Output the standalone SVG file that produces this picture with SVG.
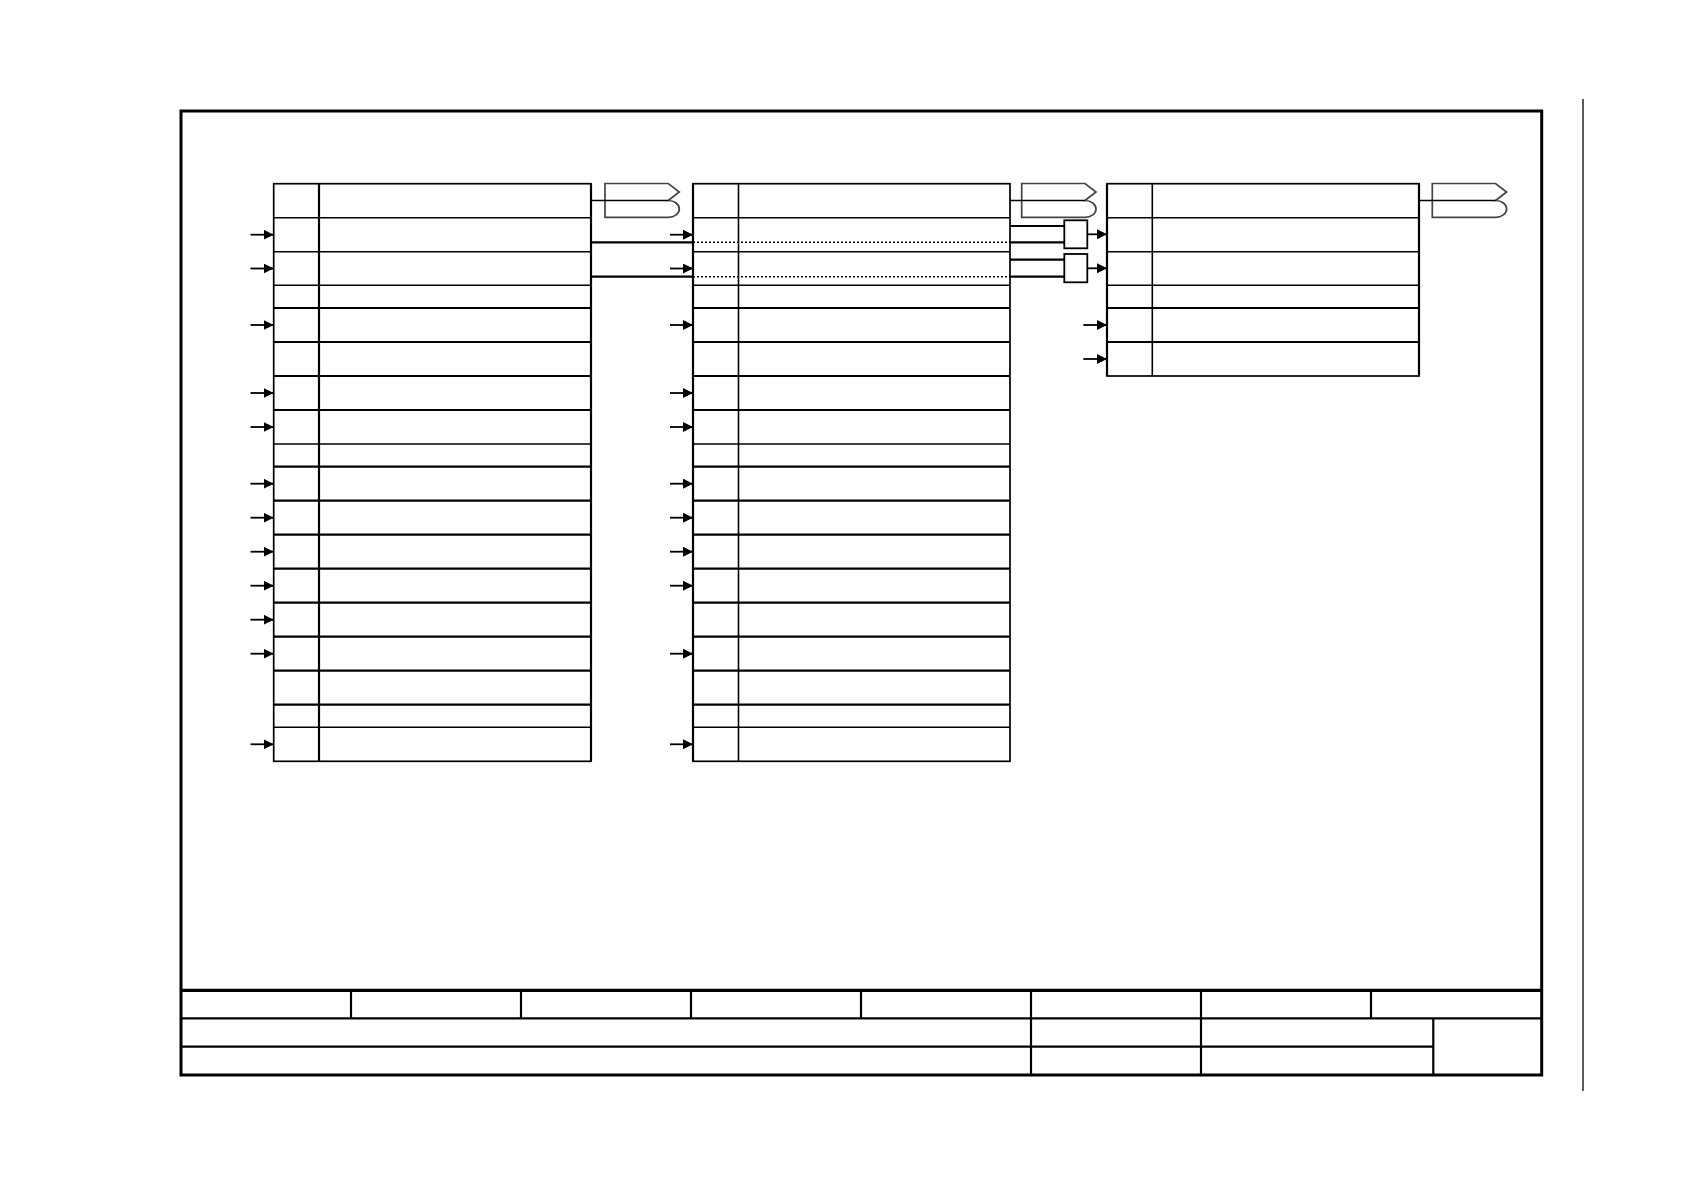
<svg xmlns="http://www.w3.org/2000/svg" width="1684" height="1190" viewBox="0 0 1684 1190">
<style>
.frame{fill:none;stroke:#000;stroke-width:3}
.tb{stroke:#000;stroke-width:2.2;fill:none}
.tbk{stroke:#000;stroke-width:3.2;fill:none}
.blk{fill:#fff;stroke:#000;stroke-width:1.7}
.rl{stroke:#000;stroke-width:1.6}
.rlt{stroke:#000;stroke-width:2.2}
.bus{fill:#fff;stroke:#444;stroke-width:1.7}
.box{fill:#fff;stroke:#000;stroke-width:1.8}
.arr{stroke:#000;stroke-width:1.8;fill:none;marker-end:url(#ah)}
.wire{stroke:#000;stroke-width:2.2;fill:none}
.dot{stroke:#000;stroke-width:1.6;stroke-dasharray:2,2;fill:none}
.thin{stroke:#000;stroke-width:1.3;fill:none}
</style>
<defs>
<marker id="ah" markerUnits="userSpaceOnUse" markerWidth="10" markerHeight="10" refX="10" refY="5" orient="auto">
<path d="M0,0 L10,5 L0,10 z" fill="#000"/>
</marker>
</defs>
<rect width="1684" height="1190" fill="#fff"/>
<g id="sheet">
<rect class="frame" x="181" y="111" width="1360.7" height="964"/>
<line class="thin" x1="1583" y1="99" x2="1583" y2="1091"/>
<line class="tbk" x1="181" y1="990.3" x2="1541.7" y2="990.3"/>
<line class="tb" x1="181" y1="1018.3" x2="1541.7" y2="1018.3"/>
<line class="tb" x1="181" y1="1046.7" x2="1433.3" y2="1046.7"/>
<line class="tb" x1="351" y1="990.3" x2="351" y2="1018.3"/>
<line class="tb" x1="521" y1="990.3" x2="521" y2="1018.3"/>
<line class="tb" x1="691" y1="990.3" x2="691" y2="1018.3"/>
<line class="tb" x1="861" y1="990.3" x2="861" y2="1018.3"/>
<line class="tb" x1="1371" y1="990.3" x2="1371" y2="1018.3"/>
<line class="tb" x1="1031" y1="990.3" x2="1031" y2="1075"/>
<line class="tb" x1="1201" y1="990.3" x2="1201" y2="1075"/>
<line class="tb" x1="1433.3" y1="1018.3" x2="1433.3" y2="1075"/>
</g>
<g id="block1">
<rect class="blk" x="273.7" y="183.7" width="317.3" height="577.6"/>
<line class="rlt" x1="319" y1="183.7" x2="319" y2="761.3"/>
<line class="rl" x1="273.7" y1="217.7" x2="591" y2="217.7"/>
<line class="rl" x1="273.7" y1="251.7" x2="591" y2="251.7"/>
<line class="rl" x1="273.7" y1="285.3" x2="591" y2="285.3"/>
<line class="rlt" x1="273.7" y1="308" x2="591" y2="308"/>
<line class="rlt" x1="273.7" y1="342" x2="591" y2="342"/>
<line class="rlt" x1="273.7" y1="376" x2="591" y2="376"/>
<line class="rlt" x1="273.7" y1="410" x2="591" y2="410"/>
<line class="rl" x1="273.7" y1="444" x2="591" y2="444"/>
<line class="rlt" x1="273.7" y1="466.7" x2="591" y2="466.7"/>
<line class="rlt" x1="273.7" y1="500.7" x2="591" y2="500.7"/>
<line class="rlt" x1="273.7" y1="534.7" x2="591" y2="534.7"/>
<line class="rlt" x1="273.7" y1="568.7" x2="591" y2="568.7"/>
<line class="rlt" x1="273.7" y1="602.7" x2="591" y2="602.7"/>
<line class="rlt" x1="273.7" y1="636.7" x2="591" y2="636.7"/>
<line class="rlt" x1="273.7" y1="670.7" x2="591" y2="670.7"/>
<line class="rlt" x1="273.7" y1="704.7" x2="591" y2="704.7"/>
<line class="rl" x1="273.7" y1="727.3" x2="591" y2="727.3"/>
<line class="rlt" x1="591" y1="183.7" x2="591" y2="761.3"/>
</g>
<g id="block2">
<rect class="blk" x="693" y="183.7" width="317" height="577.6"/>
<line class="rl" x1="738.5" y1="183.7" x2="738.5" y2="761.3"/>
<line class="rl" x1="693" y1="217.7" x2="1010" y2="217.7"/>
<line class="rl" x1="693" y1="251.7" x2="1010" y2="251.7"/>
<line class="rl" x1="693" y1="285.3" x2="1010" y2="285.3"/>
<line class="rlt" x1="693" y1="308" x2="1010" y2="308"/>
<line class="rlt" x1="693" y1="342" x2="1010" y2="342"/>
<line class="rlt" x1="693" y1="376" x2="1010" y2="376"/>
<line class="rlt" x1="693" y1="410" x2="1010" y2="410"/>
<line class="rl" x1="693" y1="444" x2="1010" y2="444"/>
<line class="rlt" x1="693" y1="466.7" x2="1010" y2="466.7"/>
<line class="rlt" x1="693" y1="500.7" x2="1010" y2="500.7"/>
<line class="rlt" x1="693" y1="534.7" x2="1010" y2="534.7"/>
<line class="rlt" x1="693" y1="568.7" x2="1010" y2="568.7"/>
<line class="rlt" x1="693" y1="602.7" x2="1010" y2="602.7"/>
<line class="rlt" x1="693" y1="636.7" x2="1010" y2="636.7"/>
<line class="rlt" x1="693" y1="670.7" x2="1010" y2="670.7"/>
<line class="rlt" x1="693" y1="704.7" x2="1010" y2="704.7"/>
<line class="rl" x1="693" y1="727.3" x2="1010" y2="727.3"/>
<line class="rlt" x1="693" y1="183.7" x2="693" y2="761.3"/>
</g>
<g id="block3">
<rect class="blk" x="1107" y="183.7" width="312" height="192.3"/>
<line class="rl" x1="1152.3" y1="183.7" x2="1152.3" y2="376"/>
<line class="rl" x1="1107" y1="217.7" x2="1419" y2="217.7"/>
<line class="rl" x1="1107" y1="251.7" x2="1419" y2="251.7"/>
<line class="rl" x1="1107" y1="285.3" x2="1419" y2="285.3"/>
<line class="rlt" x1="1107" y1="308" x2="1419" y2="308"/>
<line class="rlt" x1="1107" y1="342" x2="1419" y2="342"/>
<line class="rlt" x1="1107" y1="183.7" x2="1107" y2="376"/>
<line class="rlt" x1="1419" y1="183.7" x2="1419" y2="376"/>
</g>
<g id="bus1"><path class="bus" d="M605,183.5 H668.3 L679.3,192 L668.3,200.5 A11,8.4 0 0 1 668.3,217.3 H605 Z"/></g>
<g id="bus2"><path class="bus" d="M1021.7,183.5 H1085 L1096,192 L1085,200.5 A11,8.4 0 0 1 1085,217.3 H1021.7 Z"/></g>
<g id="bus3"><path class="bus" d="M1432.3,183.5 H1495.6 L1506.6,192 L1495.6,200.5 A11,8.4 0 0 1 1495.6,217.3 H1432.3 Z"/></g>
<g id="box1"><rect class="box" x="1064.3" y="220.3" width="23" height="28"/></g>
<g id="box2"><rect class="box" x="1064.3" y="254" width="23" height="28.3"/></g>
<g id="connectors">
<line class="thin" x1="591" y1="200.5" x2="668.3" y2="200.5"/>
<line class="thin" x1="1010" y1="200.5" x2="1085" y2="200.5"/>
<line class="thin" x1="1419" y1="200.5" x2="1495.6" y2="200.5"/>
<line class="wire" x1="591" y1="242.3" x2="693" y2="242.3"/>
<line class="wire" x1="591" y1="276.7" x2="693" y2="276.7"/>
<line class="dot" x1="693" y1="242.3" x2="1010" y2="242.3"/>
<line class="dot" x1="693" y1="276.7" x2="1010" y2="276.7"/>
<line class="wire" x1="1010" y1="226" x2="1064.3" y2="226"/>
<line class="wire" x1="1010" y1="242.3" x2="1064.3" y2="242.3"/>
<line class="wire" x1="1010" y1="259.7" x2="1064.3" y2="259.7"/>
<line class="wire" x1="1010" y1="276.7" x2="1064.3" y2="276.7"/>
<line class="arr" x1="1087.3" y1="234.3" x2="1107" y2="234.3"/>
<line class="arr" x1="1087.3" y1="268.3" x2="1107" y2="268.3"/>
<line class="arr" x1="1083.3" y1="325" x2="1107" y2="325"/>
<line class="arr" x1="1083.3" y1="359" x2="1107" y2="359"/>
<line class="arr" x1="250.5" y1="234.7" x2="273.7" y2="234.7"/>
<line class="arr" x1="250.5" y1="268.5" x2="273.7" y2="268.5"/>
<line class="arr" x1="250.5" y1="325" x2="273.7" y2="325"/>
<line class="arr" x1="250.5" y1="393" x2="273.7" y2="393"/>
<line class="arr" x1="250.5" y1="427" x2="273.7" y2="427"/>
<line class="arr" x1="250.5" y1="483.7" x2="273.7" y2="483.7"/>
<line class="arr" x1="250.5" y1="517.7" x2="273.7" y2="517.7"/>
<line class="arr" x1="250.5" y1="551.7" x2="273.7" y2="551.7"/>
<line class="arr" x1="250.5" y1="585.7" x2="273.7" y2="585.7"/>
<line class="arr" x1="250.5" y1="619.7" x2="273.7" y2="619.7"/>
<line class="arr" x1="250.5" y1="653.7" x2="273.7" y2="653.7"/>
<line class="arr" x1="250.5" y1="744.3" x2="273.7" y2="744.3"/>
<line class="arr" x1="670" y1="234.7" x2="693" y2="234.7"/>
<line class="arr" x1="670" y1="268.5" x2="693" y2="268.5"/>
<line class="arr" x1="670" y1="325" x2="693" y2="325"/>
<line class="arr" x1="670" y1="393" x2="693" y2="393"/>
<line class="arr" x1="670" y1="427" x2="693" y2="427"/>
<line class="arr" x1="670" y1="483.7" x2="693" y2="483.7"/>
<line class="arr" x1="670" y1="517.7" x2="693" y2="517.7"/>
<line class="arr" x1="670" y1="551.7" x2="693" y2="551.7"/>
<line class="arr" x1="670" y1="585.7" x2="693" y2="585.7"/>
<line class="arr" x1="670" y1="653.7" x2="693" y2="653.7"/>
<line class="arr" x1="670" y1="744.3" x2="693" y2="744.3"/>
</g>
</svg>
